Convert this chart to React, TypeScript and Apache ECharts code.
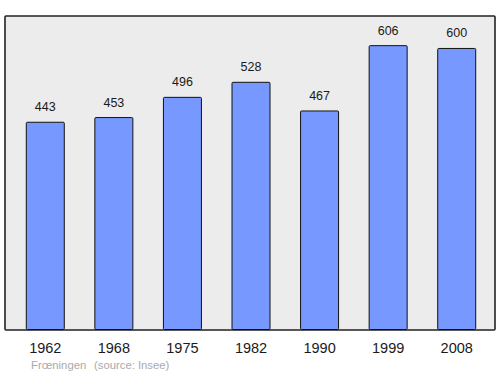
import React, { useEffect, useRef } from "react";
import * as echarts from "echarts";

const years = ["1962", "1968", "1975", "1982", "1990", "1999", "2008"];
const population = [443, 453, 496, 528, 467, 606, 600];
const placeName = "Frœningen";
const sourceText = "(source: Insee)";

export default function App() {
  const ref = useRef<HTMLDivElement>(null);
  useEffect(() => {
    if (!ref.current) return;
    const chart = echarts.init(ref.current, undefined, { renderer: "svg" });
    chart.setOption({
      animation: false,
      textStyle: { fontFamily: "Liberation Sans, Arial, sans-serif" },
      grid: { left: 11, right: 9, top: 16, bottom: 44 },
      graphic: [
        {
          type: "rect",
          z: -10,
          shape: { x: 5, y: 16, width: 490, height: 314, r: 1 },
          style: { fill: "#ececec", stroke: "#222", lineWidth: 1.6 },
        },
        {
          type: "text",
          left: 31,
          top: 359,
          style: { text: placeName, fill: "#aaaaaa", font: "11.3px Liberation Sans, Arial, sans-serif" },
        },
        {
          type: "text",
          left: 94,
          top: 359,
          style: { text: sourceText, fill: "#aaaaaa", font: "11.3px Liberation Sans, Arial, sans-serif" },
        },
      ],
      xAxis: {
        type: "category",
        data: years,
        axisLine: { show: false },
        axisTick: { show: false },
        axisLabel: { color: "#1a1a1a", fontSize: 14.5, margin: 10 },
      },
      yAxis: {
        type: "value",
        min: 0,
        max: 668,
        show: false,
        splitLine: { show: false },
      },
      series: [
        {
          type: "bar",
          data: population,
          barWidth: 39,
          itemStyle: { color: "#7799ff", borderColor: "#111", borderWidth: 1, borderRadius: 1 },
          label: { show: true, position: "top", distance: 8, color: "#1a1a1a", fontSize: 12.5 },
        },
      ],
    });
    return () => chart.dispose();
  }, []);
  return <div ref={ref} style={{ width: 500, height: 374, position: "absolute", left: 0, top: 0 }} />;
}
